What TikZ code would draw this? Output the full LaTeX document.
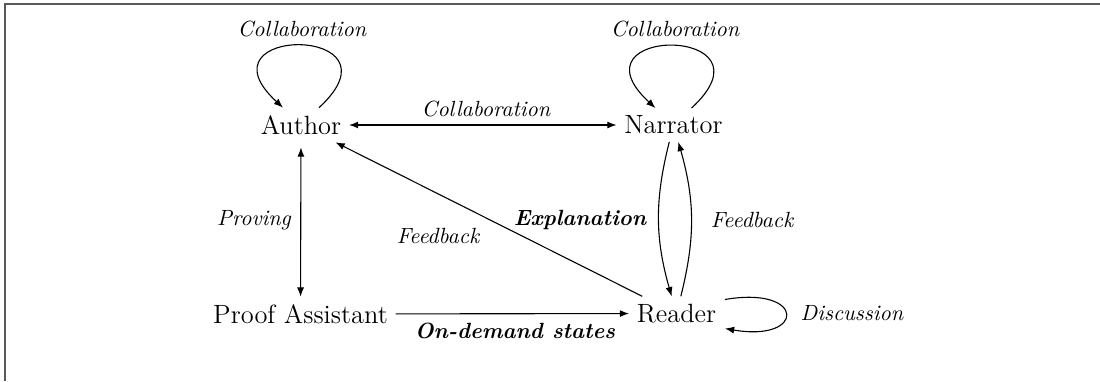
\documentclass[tikz,border=0pt]{standalone}
\usetikzlibrary{calc,arrows.meta}
\begin{document}
\begin{tikzpicture}[x=0.4545pt,y=-0.4545pt,
  box/.style={font=\large, inner sep=0.3333em},
  lbl/.style={font=\itshape, inner sep=0pt, anchor=base},
  blbl/.style={font=\bfseries\itshape, inner sep=0pt, anchor=base},
  conn/.style={line width=0.5pt, -{Latex[length=4.2pt,width=3.2pt]}},
  both/.style={line width=0.5pt, {Latex[length=4.2pt,width=3.2pt]}-{Latex[length=4.2pt,width=3.2pt]}},
  frameline/.style={line width=0.9pt, draw=black!65}]
\useasboundingbox (0,0) rectangle (1100,381);
\coordinate (fa) at (5,381);
\coordinate (fb) at (5,4);
\coordinate (fc) at (1100,4);
\draw[frameline] (fa) -- (fb) -- (fc);

\node[box] (author) at (301,125) {Author};
\node[box] (narrator) at (673.5,125) {Narrator};
\node[box] (pa) at (300.5,314) {Proof Assistant};
\node[box] (reader) at (676.5,313.5) {Reader};

% author <-> narrator
\draw[both] (author) -- (narrator);
\node[lbl] (lcol) at (486,116) {Collaboration};
% author <-> proof assistant
\draw[both, shorten <=2.3pt] (author) -- (pa);
\node[lbl] (lprov) at (254,225) {Proving};
% reader -> author
\draw[conn] (reader) -- (author);
\node[lbl] (lfb1) at (438,243) {Feedback};
% narrator -> reader
\draw[conn] (narrator) to[bend right=15] (reader);
\node[blbl] (lexp) at (580,225) {Explanation};
% reader -> narrator
\draw[conn] (reader) to[bend right=15] (narrator);
\node[lbl] (lfb2) at (752,227) {Feedback};
% proof assistant -> reader
\draw[conn] (pa) -- (reader);
\node[blbl] (lond) at (515,338) {On-demand states};

% self loops
\draw[conn] ($(author.north)+(18,0)$) .. controls +(90,-83) and +(-90,-83) .. ($(author.north)+(-18,0)$);
\node[lbl] (lcola) at (302,36) {Collaboration};
\draw[conn] ($(narrator.north)+(18,0)$) .. controls +(90,-83) and +(-90,-83) .. ($(narrator.north)+(-18,0)$);
\node[lbl] (lcoln) at (675,36) {Collaboration};
\draw[conn] ($(reader.east)+(1,-14)$) .. controls +(81,-14) and +(81,14) .. ($(reader.east)+(1,15)$);
\node[lbl] (ldis) at (852,320) {Discussion};
\end{tikzpicture}
\end{document}
